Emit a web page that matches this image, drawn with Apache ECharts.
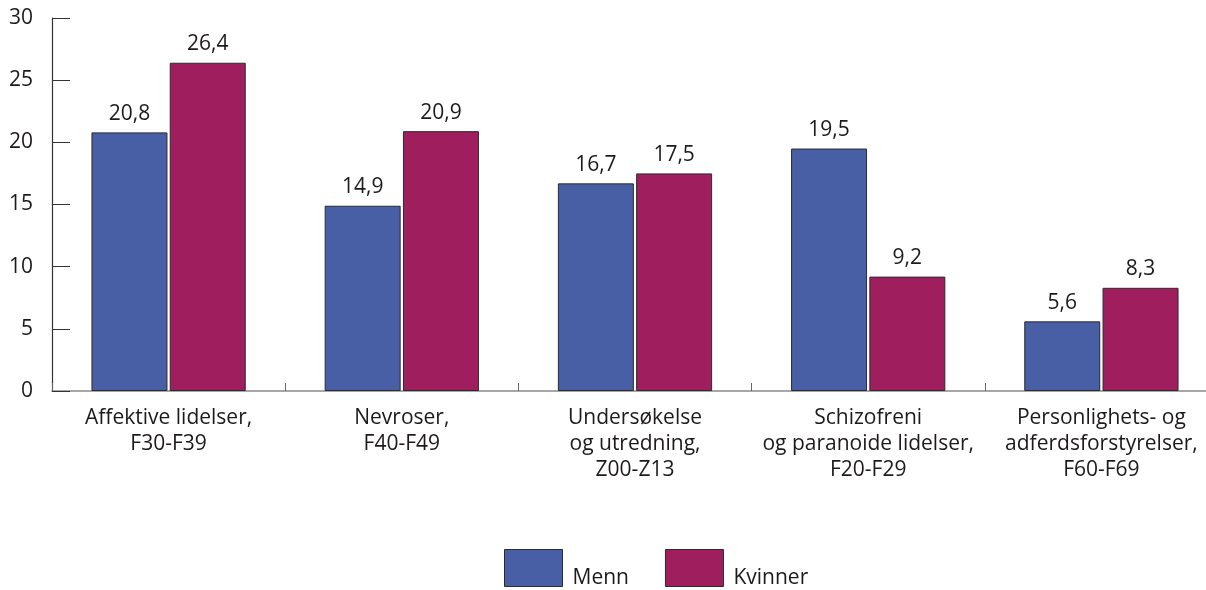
<!DOCTYPE html>
<html>
<head>
<meta charset="utf-8">
<script src="https://cdn.jsdelivr.net/npm/echarts@6/dist/echarts.min.js"></script>
<style>
	html, body { margin: 0; padding: 0; background: #fff; }
	#chart { width: 1206px; height: 590px; }
</style>
</head>
<body>
<div id="chart"></div>
<script>
var categories = [
	'Affektive lidelser,\nF30-F39',
	'Nevroser,\nF40-F49',
	'Undersøkelse\nog utredning,\nZ00-Z13',
	'Schizofreni\nog paranoide lidelser,\nF20-F29',
	'Personlighets- og\nadferdsforstyrelser,\nF60-F69'
];
var menn = [20.8, 14.9, 16.7, 19.5, 5.6];
var kvinner = [26.4, 20.9, 17.5, 9.2, 8.3];
var seriesNames = ['Menn', 'Kvinner'];
var colors = ['#485ea5', '#9f1e5d'];

var fontFamily = '"Open Sans", sans-serif';
var textColor = '#1e1a1b';

function fmt(p) {
	return String(p.value).replace('.', ',');
}

function makeSeries(name, data, color) {
	return {
		name: name,
		type: 'bar',
		data: data,
		barWidth: 76,
		barGap: '3%',
		itemStyle: {
			color: color,
			borderColor: '#2b2b2b',
			borderWidth: 1
		},
		label: {
			show: true,
			position: 'top',
			distance: 8,
			formatter: fmt,
			color: textColor,
			fontFamily: fontFamily,
			fontSize: 21
		}
	};
}

var myChart = echarts.init(document.getElementById('chart'));
var option = {
	backgroundColor: '#fff',
	animation: false,
	color: colors,
	grid: {
		left: 52,
		top: 18,
		width: 1166,
		height: 373,
		containLabel: false,
		outerBoundsMode: 'none'
	},
	legend: {
		left: 499,
		top: 544,
		itemWidth: 58,
		itemHeight: 37,
		itemGap: 36,
		icon: 'rect',
		data: seriesNames,
		itemStyle: { borderColor: '#2b2b2b', borderWidth: 1 },
		formatter: '{a|{name}}',
		textStyle: {
			color: textColor,
			fontFamily: fontFamily,
			fontSize: 21,
			rich: {
				a: {
					color: textColor,
					fontFamily: fontFamily,
					fontSize: 21,
					padding: [20, 0, 0, 5]
				}
			}
		}
	},
	xAxis: {
		type: 'category',
		data: categories,
		axisLine: { lineStyle: { color: '#8a8a8a', width: 1.5 } },
		axisTick: { show: true, inside: true, length: 8, lineStyle: { color: '#666' } },
		axisLabel: {
			color: textColor,
			fontFamily: fontFamily,
			fontSize: 21,
			lineHeight: 26,
			margin: 14,
			interval: 0
		}
	},
	yAxis: {
		type: 'value',
		min: 0,
		max: 30,
		interval: 5,
		axisLine: { show: true, lineStyle: { color: '#333', width: 1.2 } },
		axisTick: { show: true, inside: true, length: 18, lineStyle: { color: '#333' } },
		splitLine: { show: false },
		axisLabel: {
			color: textColor,
			fontFamily: fontFamily,
			fontSize: 21,
			margin: 19
		}
	},
	series: [
		makeSeries(seriesNames[0], menn, colors[0]),
		makeSeries(seriesNames[1], kvinner, colors[1])
	]
};
myChart.setOption(option);
</script>
</body>
</html>
